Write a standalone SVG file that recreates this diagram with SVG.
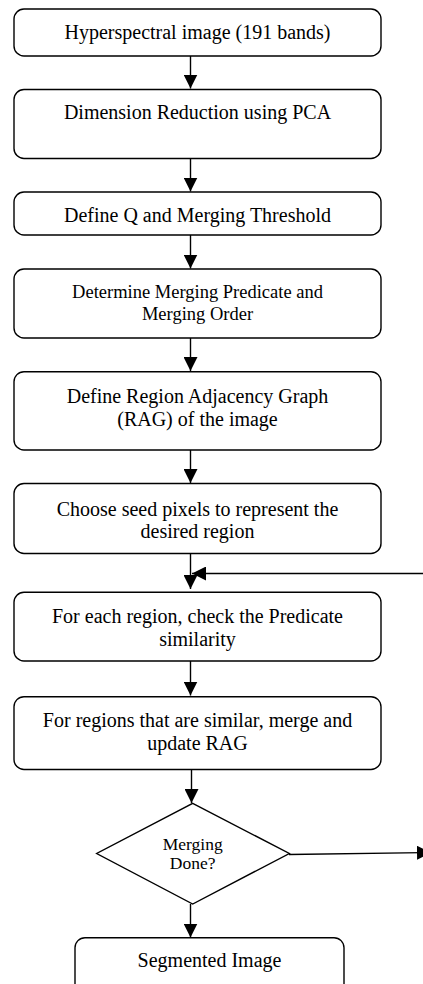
<svg xmlns="http://www.w3.org/2000/svg" width="423" height="984" viewBox="0 0 423 984">
<style>
.box{fill:#fff;stroke:#000;stroke-width:1.4}
.t{font-family:"Liberation Serif","Times New Roman",serif;font-size:20px;fill:#000;text-anchor:middle}
.s{font-size:18.5px}
.d{font-size:17.5px}
.c{fill:none;stroke:#000;stroke-width:1.4}
</style>
<defs>
<marker id="ah" markerUnits="userSpaceOnUse" viewBox="0 0 14 14" refX="14" refY="7" markerWidth="14" markerHeight="14" orient="auto">
<path d="M0,0 L14,7 L0,14 Z" fill="#000"/>
</marker>
</defs>
<rect width="423" height="984" fill="#fff"/>
<g id="connectors">
<line class="c" x1="190.5" y1="56" x2="190.5" y2="88.5" marker-end="url(#ah)"/>
<line class="c" x1="190.5" y1="158.5" x2="190.5" y2="191.5" marker-end="url(#ah)"/>
<line class="c" x1="190.5" y1="235" x2="190.5" y2="268.5" marker-end="url(#ah)"/>
<line class="c" x1="190.5" y1="338" x2="190.5" y2="371" marker-end="url(#ah)"/>
<line class="c" x1="190.5" y1="450" x2="190.5" y2="483" marker-end="url(#ah)"/>
<line class="c" x1="190.5" y1="553.5" x2="190.5" y2="589" marker-end="url(#ah)"/>
<line class="c" x1="424" y1="573.5" x2="192" y2="573.5" marker-end="url(#ah)"/>
<line class="c" x1="190.5" y1="661" x2="190.5" y2="695.5" marker-end="url(#ah)"/>
<line class="c" x1="191.5" y1="769.5" x2="191.5" y2="803" marker-end="url(#ah)"/>
<line class="c" x1="289" y1="854.5" x2="431" y2="852.5" marker-end="url(#ah)"/>
<line class="c" x1="190.5" y1="904" x2="190.5" y2="937.5" marker-end="url(#ah)"/>
</g>
<g id="n1"><rect class="box" x="14" y="9" width="367" height="47" rx="10"/><text class="t" x="197.5" y="39.3">Hyperspectral image (191 bands)</text></g>
<g id="n2"><rect class="box" x="14" y="89.5" width="367" height="69" rx="10"/><text class="t" x="197.5" y="119.3">Dimension Reduction using PCA</text></g>
<g id="n3"><rect class="box" x="14" y="192" width="367" height="43" rx="10"/><text class="t" x="197.5" y="221.7">Define Q and Merging Threshold</text></g>
<g id="n4"><rect class="box" x="14" y="269" width="367" height="69" rx="10"/><text class="t s" x="197.5" y="298.3">Determine Merging Predicate and</text><text class="t s" x="197.5" y="320">Merging Order</text></g>
<g id="n5"><rect class="box" x="14" y="371.7" width="367" height="78.3" rx="10"/><text class="t" x="197.5" y="403.3">Define Region Adjacency Graph</text><text class="t" x="197.5" y="426">(RAG) of the image</text></g>
<g id="n6"><rect class="box" x="14" y="483.5" width="367" height="70" rx="10"/><text class="t" x="197.5" y="515.7">Choose seed pixels to represent the</text><text class="t" x="197.5" y="537.7">desired region</text></g>
<g id="n7"><rect class="box" x="14" y="592.3" width="367" height="68.7" rx="10"/><text class="t" x="197.5" y="623.3">For each region, check the Predicate</text><text class="t" x="197.5" y="646">similarity</text></g>
<g id="n8"><rect class="box" x="14" y="696.7" width="367" height="72.8" rx="10"/><text class="t" x="197.5" y="726.7">For regions that are similar, merge and</text><text class="t" x="197.5" y="750">update RAG</text></g>
<g id="n9"><polygon class="box" points="192.7,803.3 289.3,853.5 192.7,904 96.7,853.5"/><text class="t d" x="192.7" y="850">Merging</text><text class="t d" x="192.7" y="869.3">Done?</text></g>
<g id="n10"><rect class="box" x="75" y="937.7" width="269" height="60" rx="10"/><text class="t" x="209.5" y="967">Segmented Image</text></g>
</svg>
